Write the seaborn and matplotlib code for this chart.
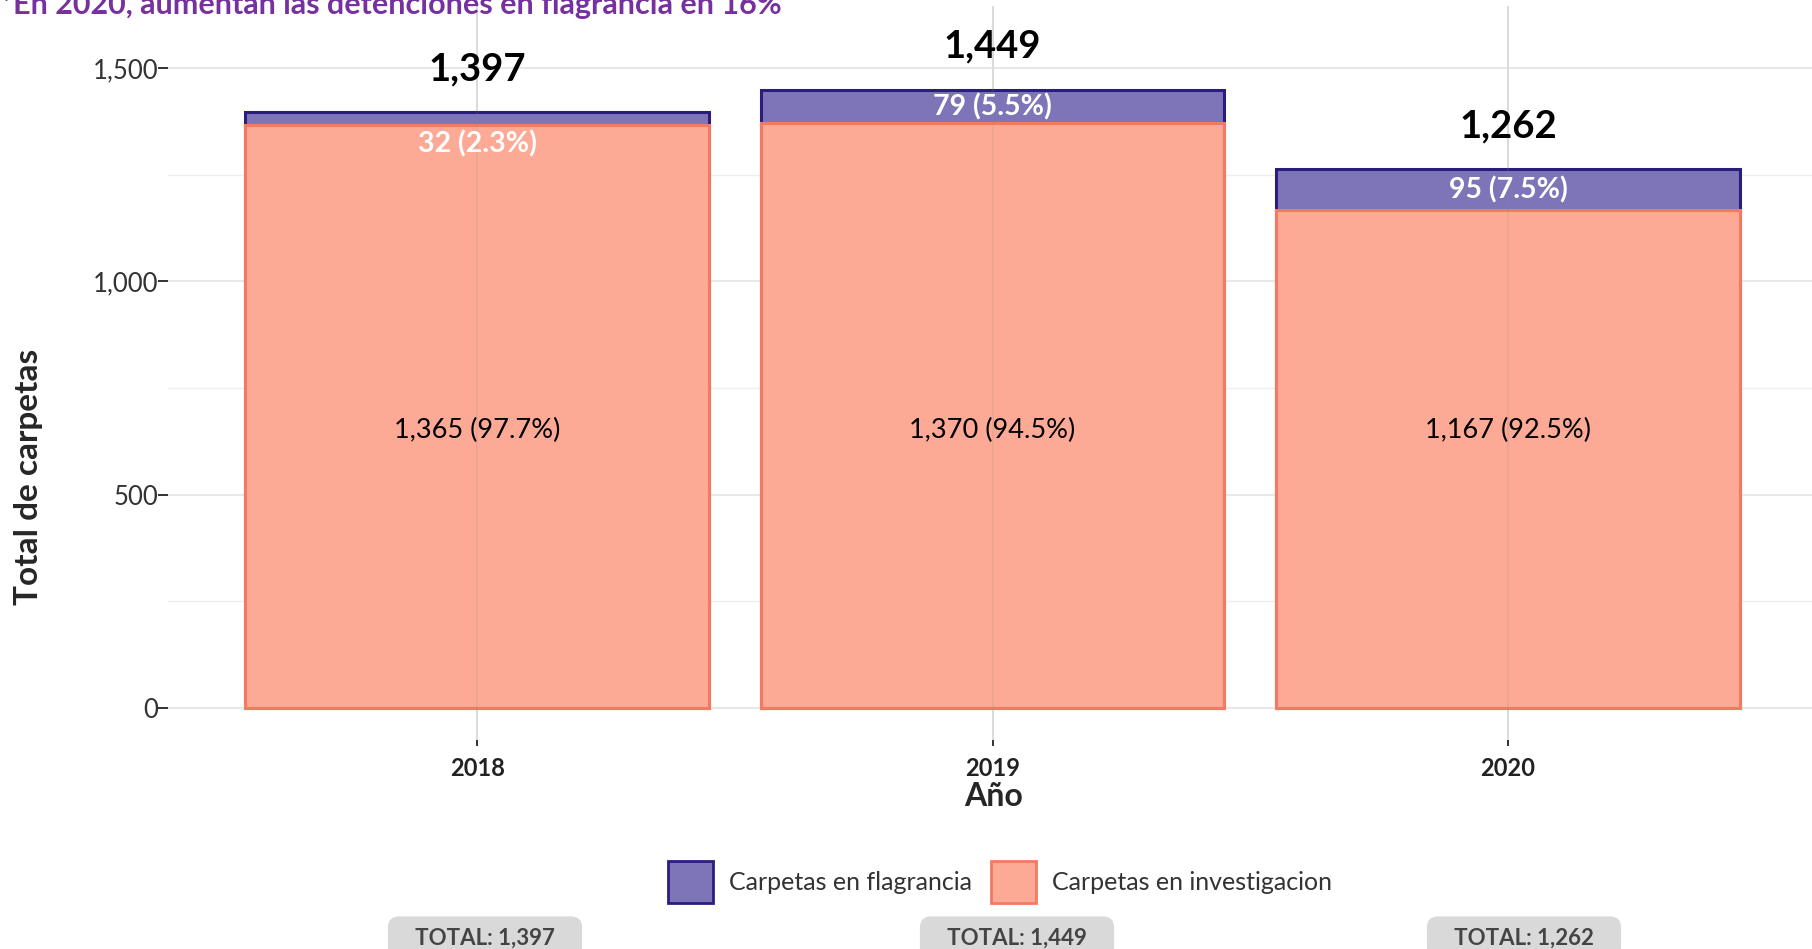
import matplotlib
matplotlib.use("Agg")
import matplotlib.pyplot as plt
from matplotlib.patches import Patch
import seaborn as sns
import pandas as pd

# data
years = ["2018", "2019", "2020"]
flagrancia = [32, 79, 95]
investigacion = [1365, 1370, 1167]
totals = [f + i for f, i in zip(flagrancia, investigacion)]

title = "*En 2020, aumentan las detenciones en flagrancia en 16%"
legend_labels = ["Carpetas en flagrancia", "Carpetas en investigacion"]

purple_face = "#7d75b8"
purple_edge = "#2b1d7c"
salmon_face = "#fca995"
salmon_edge = "#f27a62"

df = pd.DataFrame({"Año": years, "flagrancia": flagrancia,
                   "investigacion": investigacion, "total": totals})

sns.set_theme(style="whitegrid")
plt.rcParams["font.family"] = ["Lato", "DejaVu Sans"]

fig = plt.figure(figsize=(18.12, 9.49), dpi=100)
ax = fig.add_axes([168 / 1812, 1 - 740 / 949, 1 - 168 / 1812, (740 - 6) / 949])

# stacked bars: full total in purple, investigacion drawn on top in salmon
sns.barplot(data=df, x="Año", y="total", color=purple_face, saturation=1,
            width=0.9, edgecolor=purple_edge, linewidth=2.2, ax=ax)
sns.barplot(data=df, x="Año", y="investigacion", color=salmon_face, saturation=1,
            width=0.9, edgecolor=salmon_edge, linewidth=2.2, ax=ax)

ax.set_xlim(-0.6, 2.59)
ax.set_ylim(-75, 1645)
ax.set_axisbelow(True)
# faint vertical guide showing through the bars
for i in range(len(years)):
    ax.axvline(i, color="#888888", alpha=0.15, linewidth=1.3, zorder=1.5)

# labels
for i, row in df.iterrows():
    ax.text(i, row["total"] + 100, f"{row['total']:,}", ha="center", va="center",
            fontsize=27.5, fontweight="bold", color="black")
    pf = row["flagrancia"] / row["total"] * 100
    yf = row["investigacion"] + row["flagrancia"] / 2
    if row["flagrancia"] < 50:
        yf = row["total"] - 75
    ax.text(i, yf, f"{row['flagrancia']} ({pf:.1f}%)", ha="center", va="center",
            fontsize=20.5, fontweight="bold", color="white")
    pi = row["investigacion"] / row["total"] * 100
    ax.text(i, 650, f"{row['investigacion']:,} ({pi:.1f}%)", ha="center",
            va="center", fontsize=19.5, color="black")

ax.set_yticks([0, 500, 1000, 1500])
ax.set_yticklabels(["0", "500", "1,000", "1,500"])
ax.set_yticks([250, 750, 1250], minor=True)
ax.grid(True, which="major", color="#e6e6e6", linewidth=1.3)
ax.grid(True, which="minor", axis="y", color="#eeeeee", linewidth=1.0)
ax.tick_params(axis="y", which="major", length=7, width=1.4, color="#333333",
               pad=0, labelsize=18.5, labelcolor="#333333", left=True)
ax.tick_params(axis="y", which="minor", length=0)
ax.tick_params(axis="x", length=4, width=1.4, color="#333333", pad=8,
               labelsize=17, labelcolor="#222222", bottom=True)
for lab in ax.get_xticklabels():
    lab.set_fontweight("bold")
ax.set_xlabel("")
ax.set_ylabel("")
for s in ax.spines.values():
    s.set_visible(False)

fig.text(994 / 1812, 1 - 797 / 949, "Año", ha="center", va="center",
         fontsize=23, fontweight="bold")
fig.text(29 / 1812, 1 - 477 / 949, "Total de carpetas", ha="center", va="center",
         rotation=90, fontsize=24, fontweight="bold")
fig.text(0.0, 1 - 14 / 949, title, ha="left", va="baseline", fontsize=22,
         fontweight="bold", color="#7630a0")

handles = [Patch(facecolor=purple_face, edgecolor=purple_edge, linewidth=2),
           Patch(facecolor=salmon_face, edgecolor=salmon_edge, linewidth=2)]
fig.legend(handles, legend_labels, loc="center", bbox_to_anchor=(0.552, 1 - 882 / 949),
           ncol=2, frameon=False, fontsize=18, handlelength=1.8, handleheight=2.25,
           handletextpad=0.65, columnspacing=0.75, labelcolor="#333333")

for xc, t in zip([485, 1017, 1524], totals):
    fig.text(xc / 1812, 1 - 938 / 949, f"   TOTAL: {t:,}   ", ha="center", va="center",
             fontsize=16, fontweight="bold", color="#444444",
             bbox=dict(boxstyle="round,pad=0.5", facecolor="#d9d9d9",
                       edgecolor="none"))

fig.savefig("out.png", dpi=100)
